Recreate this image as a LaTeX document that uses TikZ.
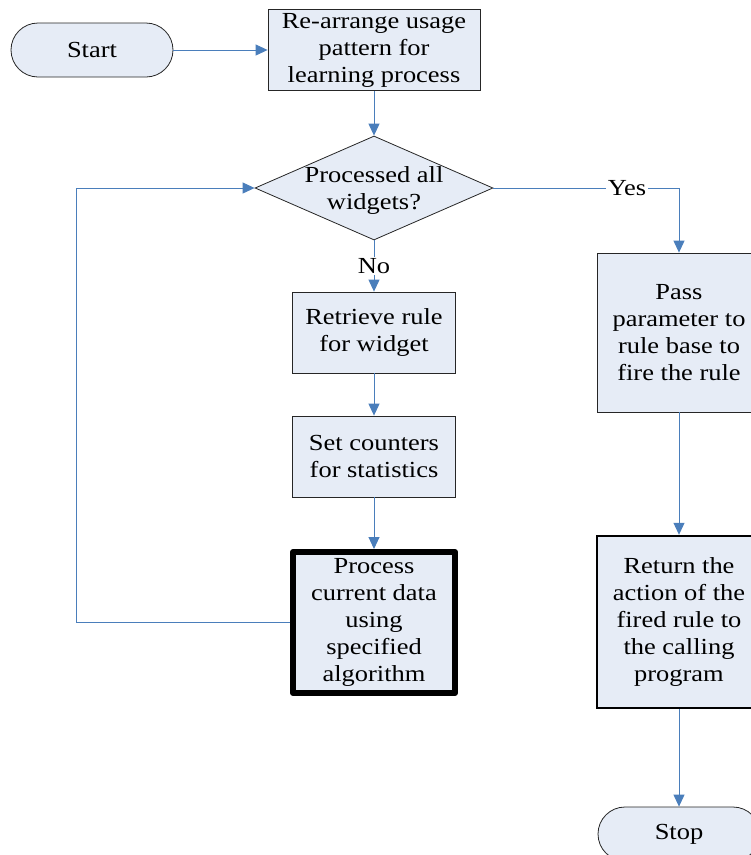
\documentclass[tikz,border=0pt]{standalone}
\usepackage{fontspec}
\setmainfont{Liberation Serif}[FakeStretch=1.15]
\usetikzlibrary{arrows.meta,shapes.geometric}

\definecolor{boxfill}{HTML}{E6ECF6}
\definecolor{flowline}{HTML}{4A7EBB}

\tikzset{
  txt/.style={font=\fontsize{23}{27}\selectfont, align=center, inner sep=0pt},
  process/.style={txt, draw=black!85, line width=0.8pt, fill=boxfill, rectangle,
    minimum width=163pt, minimum height=81pt},
  terminal/.style={txt, draw=black!85, line width=0.8pt, fill=boxfill, rectangle,
    rounded corners=27pt, minimum width=162pt, minimum height=54pt},
  decision/.style={draw=black!85, line width=0.8pt, fill=boxfill, diamond,
    inner sep=0pt, minimum width=238pt, minimum height=104pt},
  flow/.style={draw=flowline, line width=1pt,
    -{Triangle[length=12pt,width=11pt]}, color=flowline},
  flowlabel/.style={txt, fill=white, inner sep=1.5pt}
}

\begin{document}
\begin{tikzpicture}[x=1pt, y=-1pt]
  \useasboundingbox (0,0) rectangle (751,855);
  \clip (0,0) rectangle (751,855);

  % start and preparation
  \node[terminal] (start) at (92,50) {Start};
  \node[process, minimum width=212pt] (rearr) at (374,50)
    {Re-arrange usage\\pattern for\\learning process};

  % decision
  \node[decision] (dec) at (374,188) {};
  \node[txt] (dectxt) at (374,190) {Processed all\\widgets?};

  % left branch: loop body
  \node[process] (ret) at (374,332.5) {Retrieve rule\\for widget};
  \node[process] (cnt) at (374,456.5) {Set counters\\for statistics};
  \node[process, line width=6pt, line join=round, draw=black,
        minimum width=162pt, minimum height=141pt] (proc) at (374,622.5)
    {Process\\current data\\using\\specified\\algorithm};

  % right branch: fire the rule
  \node[process, minimum width=164pt, minimum height=159pt] (pass) at (679,332.5)
    {Pass\\parameter to\\rule base to\\fire the rule};
  \node[process, line width=2.4pt, draw=black, minimum width=164pt,
        minimum height=172pt] (rtn) at (679,622)
    {Return the\\action of the\\fired rule to\\the calling\\program};
  \node[terminal] (stop) at (679,834) {Stop};

  % connectors
  \coordinate (yescorner) at (679,188);
  \coordinate (loopcorner) at (76,622.5);

  \draw[flow] (start.east) -- (rearr.west);
  \draw[flow] (rearr.south) -- (dec.north);
  \draw[flow] (dec.east) -- (yescorner) -- (pass.north);
  \draw[flow] (dec.south) -- (ret.north);
  \draw[flow] (ret.south) -- (cnt.north);
  \draw[flow] (cnt.south) -- (proc.north);
  \draw[flow] (proc.west) -- (loopcorner) |- (dec.west);
  \draw[flow] (pass.south) -- (rtn.north);
  \draw[flow] (rtn.south) -- (stop.north);

  % branch labels
  \node[flowlabel] (yes) at (627,188) {Yes};
  \node[flowlabel] (no) at (374,266) {No};
\end{tikzpicture}
\end{document}
